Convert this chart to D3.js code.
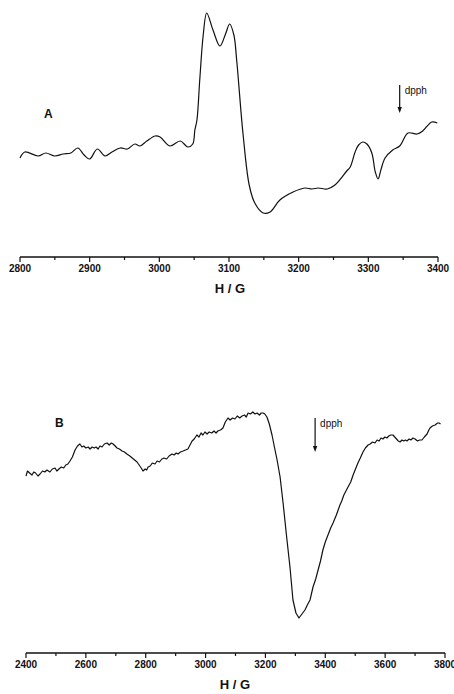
<!DOCTYPE html>
<html>
<head>
<meta charset="utf-8">
<script src="https://cdn.jsdelivr.net/npm/d3@7"></script>
<style>
  body { margin: 0; background: #fff; }
  svg text { font-family: "Liberation Sans", Arial, sans-serif; fill: #111; }
</style>
</head>
<body>
<script>
// spectrum A: field (G) and signal (arbitrary units)
var fieldA = [2800, 2807, 2826, 2837, 2850, 2862, 2873, 2883, 2892, 2900, 2911, 2922, 2932, 2944, 2954,
  2965, 2972, 2982, 2994, 3001, 3015, 3030, 3041, 3048, 3051, 3054, 3058, 3063, 3068, 3077, 3087, 3095,
  3101, 3107, 3111, 3120, 3129, 3137, 3149, 3159, 3173, 3192, 3209, 3219, 3228, 3241, 3252, 3269, 3274,
  3281, 3286, 3292, 3298, 3305, 3310, 3314, 3318, 3324, 3335, 3345, 3357, 3370, 3378, 3391, 3399];
var signalA = [-45, -39, -43, -40, -43, -41, -40, -35, -42, -46, -36, -43, -39, -35, -36,
  -31, -33, -28, -23, -24, -33, -28, -34, -31, -17, -7, 33, 78, 100, 83, 67, 79,
  89, 78, 53, -20, -72, -90, -100, -99, -87, -79, -75, -76, -75, -76, -72, -58, -54,
  -39, -32, -29, -31, -40, -59, -66, -57, -45, -37, -33, -20, -21, -18, -9, -10];

// spectrum B
var fieldB = [2400, 2405, 2412, 2420, 2426, 2432, 2440, 2447, 2455, 2463, 2470, 2480, 2488, 2497, 2503, 2510,
  2518, 2526, 2533, 2540, 2547, 2555, 2564, 2572, 2580, 2587, 2593, 2600, 2608, 2614, 2621, 2628, 2634, 2641,
  2647, 2654, 2662, 2671, 2678, 2685, 2691, 2698, 2704, 2712, 2721, 2729, 2737, 2747, 2755, 2763, 2771, 2778,
  2785, 2791, 2798, 2803, 2808, 2815, 2822, 2831, 2838, 2846, 2854, 2861, 2870, 2878, 2888, 2895, 2902, 2908,
  2916, 2925, 2933, 2941, 2948, 2955, 2962, 2971, 2978, 2985, 2991, 2998, 3005, 3012, 3021, 3028, 3035, 3041,
  3050, 3058, 3066, 3075, 3082, 3090, 3098, 3106, 3114, 3122, 3130, 3136, 3142, 3150, 3158, 3165, 3172, 3180,
  3186, 3192, 3198, 3205, 3213, 3222, 3230, 3239, 3249, 3259, 3272, 3282, 3292, 3302, 3312, 3322, 3332, 3340,
  3349, 3359, 3368, 3376, 3384, 3392, 3400, 3409, 3418, 3426, 3437, 3449, 3455, 3462, 3469, 3476, 3485, 3493,
  3501, 3509, 3517, 3526, 3534, 3543, 3550, 3558, 3566, 3573, 3580, 3586, 3593, 3599, 3606, 3612, 3619, 3626,
  3632, 3638, 3644, 3650, 3656, 3662, 3668, 3673, 3680, 3686, 3693, 3700, 3708, 3715, 3723, 3731, 3740, 3746,
  3750, 3758, 3767, 3775, 3780, 3785];
var signalB = [39, 44, 42, 40, 43, 42, 39, 41, 44, 43, 45, 43, 46, 47, 44, 46,
  48, 47, 50, 51, 54, 58, 65, 69, 71, 68, 69, 67, 68, 66, 68, 67, 68, 66,
  69, 68, 71, 72, 70, 72, 71, 69, 67, 66, 64, 63, 61, 59, 57, 55, 53, 50,
  47, 44, 46, 45, 48, 49, 52, 51, 54, 53, 56, 57, 56, 59, 61, 60, 62, 61,
  63, 64, 65, 66, 70, 74, 76, 80, 78, 82, 80, 83, 81, 83, 82, 84, 82, 84,
  85, 87, 93, 97, 95, 97, 96, 99, 97, 99, 100, 98, 102, 101, 103, 101, 102, 100,
  102, 102, 101, 98, 91, 80, 68, 55, 38, 12, -25, -52, -85, -98, -103, -99, -95, -90,
  -85, -72, -64, -55, -46, -35, -27, -20, -13, -8, 0, 10, 14, 20, 24, 28, 33, 40,
  46, 52, 57, 63, 67, 70, 71, 73, 72, 75, 74, 77, 76, 78, 77, 79, 80, 80,
  78, 76, 74, 73, 75, 74, 75, 74, 76, 75, 77, 76, 74, 75, 75, 78, 81, 85,
  87, 89, 90, 92, 92, 91];

var dpphA = 3345, dpphB = 3366;

var W = 454, H = 694;
var svg = d3.select("body").append("svg").attr("width", W).attr("height", H);

function panel(opt) {
  var x = d3.scaleLinear().domain(opt.xDomain).range([opt.x0, opt.x1]);
  var y = d3.scaleLinear().domain(opt.yDomain).range(opt.yRange);
  var pts = opt.field.map(function(f, i) { return [f, opt.signal[i]]; });

  svg.append("path")
    .datum(pts)
    .attr("d", d3.line().x(function(d) { return x(d[0]); }).y(function(d) { return y(d[1]); }).curve(opt.curve))
    .attr("fill", "none")
    .attr("stroke", "#111")
    .attr("stroke-width", 1.2)
    .attr("stroke-linejoin", "round");

  // axis, major ticks labelled, minor ticks between
  var g = svg.append("g").attr("transform", "translate(0," + opt.axisY + ")");
  g.append("line").attr("x1", opt.x0).attr("x2", opt.x1).attr("stroke", "#111").attr("stroke-width", 1.4);
  var minor = d3.range(opt.xDomain[0], opt.xDomain[1] + 1, opt.step / 2);
  g.selectAll(".tk").data(minor).enter().append("line")
    .attr("x1", function(d) { return x(d); }).attr("x2", function(d) { return x(d); })
    .attr("y1", 0).attr("y2", function(d, i) { return i % 2 == 0 ? 5 : 3; })
    .attr("stroke", "#111").attr("stroke-width", 1.2);
  g.selectAll(".lb").data(d3.range(opt.xDomain[0], opt.xDomain[1] + 1, opt.step)).enter().append("text")
    .attr("x", function(d) { return x(d); })
    .attr("y", 15)
    .attr("text-anchor", "middle")
    .style("font-size", "10px")
    .style("font-weight", "bold")
    .text(function(d) { return d; });
  g.append("text")
    .attr("x", opt.titleX).attr("y", 36)
    .attr("text-anchor", "middle")
    .style("font-size", "13px")
    .style("font-weight", "bold")
    .text("H / G");

  svg.append("text")
    .attr("x", opt.labelPos[0]).attr("y", opt.labelPos[1])
    .style("font-size", "12px").style("font-weight", "bold")
    .text(opt.label);

  // dpph marker
  var ax = x(opt.dpph);
  svg.append("line").attr("x1", ax).attr("x2", ax).attr("y1", opt.arrow[0]).attr("y2", opt.arrow[1] - 5)
    .attr("stroke", "#111").attr("stroke-width", 1.2);
  svg.append("path")
    .attr("d", "M" + (ax - 2.2) + "," + (opt.arrow[1] - 6) + "L" + (ax + 2.2) + "," + (opt.arrow[1] - 6) + "L" + ax + "," + opt.arrow[1] + "Z")
    .attr("fill", "#111");
  svg.append("text")
    .attr("x", ax + 5).attr("y", opt.arrow[0] + 9)
    .style("font-size", "10px")
    .text("dpph");
}

panel({
  field: fieldA, signal: signalA, xDomain: [2800, 3400], step: 100,
  x0: 20, x1: 438, yDomain: [-100, 100], yRange: [213, 13], axisY: 257,
  curve: d3.curveCatmullRom.alpha(0.5), titleX: 230, label: "A", labelPos: [44, 118],
  dpph: dpphA, arrow: [85, 113]
});

panel({
  field: fieldB, signal: signalB, xDomain: [2400, 3800], step: 200,
  x0: 26, x1: 445, yDomain: [-103, 103], yRange: [618, 412], axisY: 653,
  curve: d3.curveLinear, titleX: 235, label: "B", labelPos: [55, 427],
  dpph: dpphB, arrow: [418, 452]
});
</script>
</body>
</html>
